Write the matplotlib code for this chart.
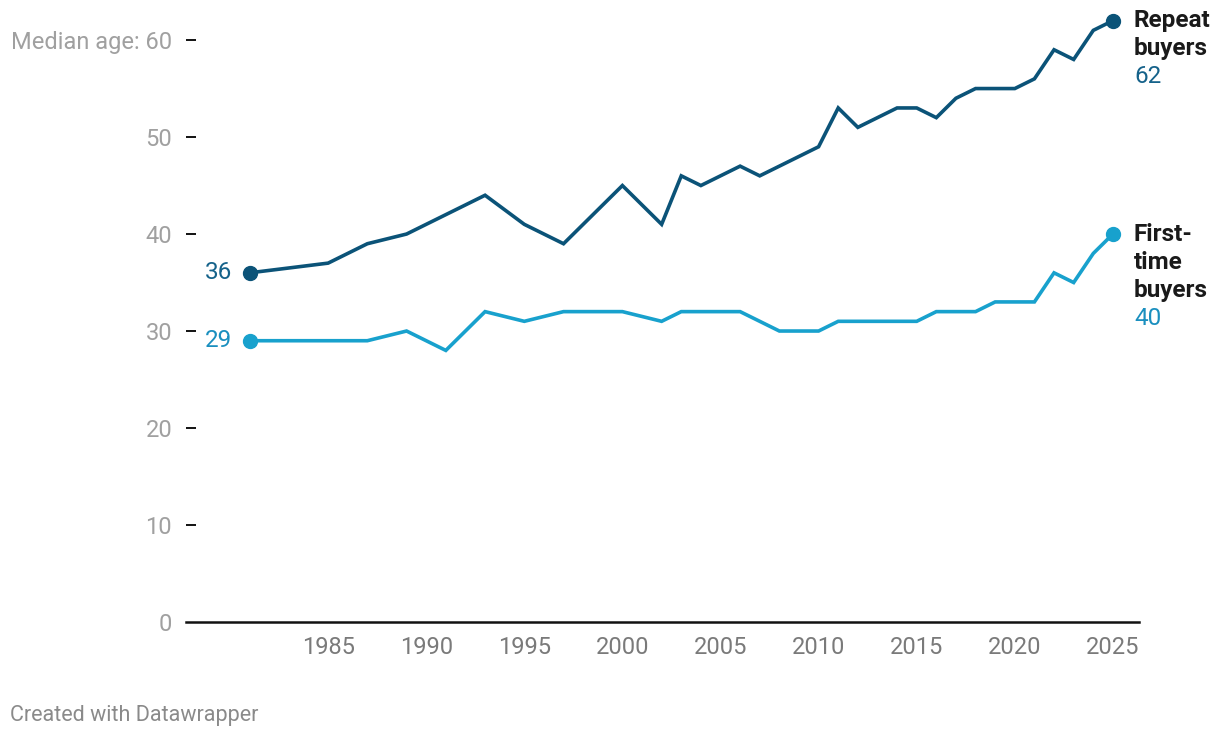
import matplotlib
matplotlib.use("Agg")
import matplotlib.pyplot as plt

plt.rcParams['font.family'] = ['Roboto', 'DejaVu Sans']

# median age of home buyers
years = [1981, 1985, 1987, 1989, 1991, 1993, 1995, 1997, 2000, 2002, 2003, 2004,
         2005, 2006, 2007, 2008, 2009, 2010, 2011, 2012, 2013, 2014, 2015, 2016,
         2017, 2018, 2019, 2020, 2021, 2022, 2023, 2024, 2025]
repeat = [36, 37, 39, 40, 42, 44, 41, 39, 45, 41, 46, 45,
          46, 47, 46, 47, 48, 49, 53, 51, 52, 53, 53, 52,
          54, 55, 55, 55, 56, 59, 58, 61, 62]
first_time = [29, 29, 29, 30, 28, 32, 31, 32, 32, 31, 32, 32,
              32, 32, 31, 30, 30, 30, 31, 31, 31, 31, 31, 32,
              32, 32, 33, 33, 33, 36, 35, 38, 40]

yticks = [0, 10, 20, 30, 40, 50, 60]
ylabels = ['0', '10', '20', '30', '40', '50', 'Median age: 60']
xticks = [1985, 1990, 1995, 2000, 2005, 2010, 2015, 2020, 2025]

dark = '#0b5378'
light = '#18a1cd'
dark_txt = '#15628a'
light_txt = '#1a8fbf'

fig = plt.figure(figsize=(12.2, 7.38), dpi=100)
ax = fig.add_axes([0.1525, 0.1572, 0.7811, 0.8148])

ax.plot(years, repeat, color=dark, lw=2.6, solid_joinstyle='miter', clip_on=False, zorder=3)
ax.plot(years, first_time, color=light, lw=2.6, solid_joinstyle='miter', clip_on=False, zorder=3)
for ser, c in [(repeat, dark), (first_time, light)]:
    ax.plot([years[0], years[-1]], [ser[0], ser[-1]], 'o', color=c, ms=10, clip_on=False, zorder=4)

ax.set_xlim(1977.76, 2026.33)
ax.set_ylim(0, 62)

for s in ['left', 'right', 'top']:
    ax.spines[s].set_visible(False)
ax.spines['bottom'].set_color('#111111')
ax.spines['bottom'].set_linewidth(1.8)

ax.set_yticks(yticks)
ax.set_yticklabels(ylabels)
ax.set_xticks(xticks)
ax.set_xticklabels([str(x) for x in xticks])
ax.tick_params(axis='y', direction='in', length=7, width=1.4, color='#111111',
               labelsize=17, labelcolor='#a0a0a0', pad=10)
ax.tick_params(axis='x', length=0, labelsize=17, labelcolor='#7a7a7a', pad=10)
# hide the tick at 0 (axis line already there)
ax.yaxis.get_major_ticks()[0].tick1line.set_visible(False)

fs = 17.5
# start labels
ax.annotate(str(repeat[0]), (years[0], repeat[0]), xytext=(-17, 0), textcoords='offset pixels',
            ha='right', va='center', fontsize=fs, color=dark_txt)
ax.annotate(str(first_time[0]), (years[0], first_time[0]), xytext=(-17, 0), textcoords='offset pixels',
            ha='right', va='center', fontsize=fs, color=light_txt)

# end labels
rep_lines = ['Repeat', 'buyers']
for i, t in enumerate(rep_lines):
    ax.annotate(t, (years[-1], repeat[-1]), xytext=(21, -28 * i), textcoords='offset pixels',
                ha='left', va='center', fontsize=fs, fontweight='bold', color='#1a1a1a',
                annotation_clip=False)
ax.annotate(str(repeat[-1]), (years[-1], repeat[-1]), xytext=(21, -28 * len(rep_lines)),
            textcoords='offset pixels', ha='left', va='center', fontsize=fs, color=dark_txt,
            annotation_clip=False)

ft_lines = ['First-', 'time', 'buyers']
for i, t in enumerate(ft_lines):
    ax.annotate(t, (years[-1], first_time[-1]), xytext=(21, -28 * i), textcoords='offset pixels',
                ha='left', va='center', fontsize=fs, fontweight='bold', color='#1a1a1a',
                annotation_clip=False)
ax.annotate(str(first_time[-1]), (years[-1], first_time[-1]), xytext=(21, -28 * len(ft_lines)),
            textcoords='offset pixels', ha='left', va='center', fontsize=fs, color=light_txt,
            annotation_clip=False)

fig.text(10 / 1220, 1 - 715 / 738, 'Created with Datawrapper', ha='left', va='center',
         fontsize=15.5, color='#8a8a8a')

fig.savefig('out.png', dpi=100)
